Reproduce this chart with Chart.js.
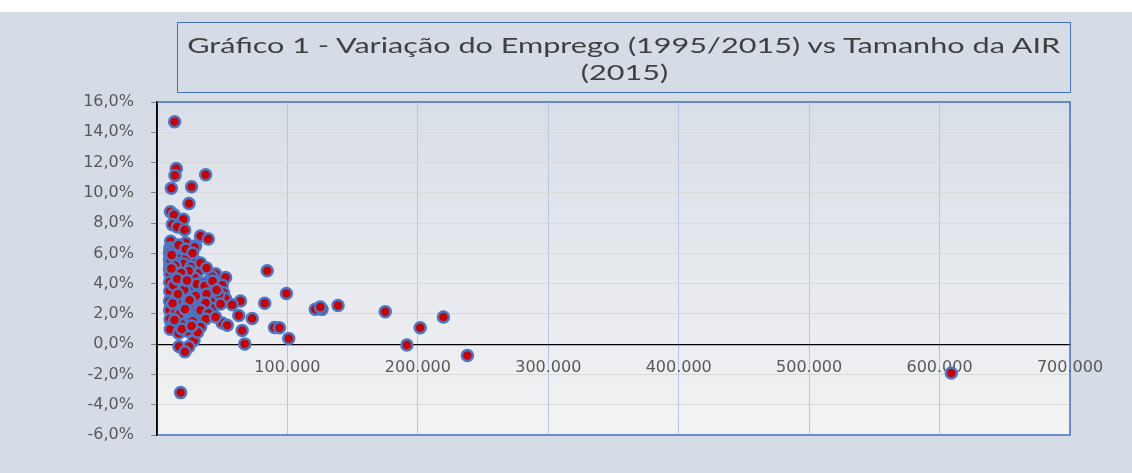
<!DOCTYPE html>
<html>
<head>
<meta charset="utf-8">
<script src="https://cdn.jsdelivr.net/npm/chart.js@4.4.1/dist/chart.umd.min.js"></script>
<style>
  html, body { margin: 0; padding: 0; }
  body { width: 1132px; height: 473px; background: #d6dce5; position: relative; overflow: hidden; }
  #strip { position: absolute; left: 0; top: 0; width: 1132px; height: 12px; background: #fff; }
  #chart { position: absolute; left: 0; top: 0; }
  #title {
    position: absolute; left: 177px; top: 22px; width: 894px; height: 71px;
    border: 1.5px solid #4472c4; box-sizing: border-box;
    color: #404040; font-family: Lato, "Liberation Sans", sans-serif; font-size: 22px;
    text-align: center; line-height: 27px; padding-top: 8px;
  }
  #title span { display: inline-block; transform-origin: center; white-space: nowrap; }
</style>
</head>
<body>
<div id="strip"></div>
<canvas id="chart" width="1132" height="473"></canvas>
<div id="title"><span id="t1">Gráfico 1 - Variação do Emprego (1995/2015) vs Tamanho da AIR</span><br><span id="t2">(2015)</span></div>
<script>
// ── Data (x = tamanho da AIR, y = variação do emprego em %) ────────────────
const airSize = [
  13500, 14800, 13800, 37300, 11000, 26500, 24500, 10300, 13000, 20200,
  11800, 15600, 21200, 33400, 39300, 10500, 22000, 29600, 9800, 10500,
  20400, 28800, 16600, 29100, 9800, 9600, 12800, 22000, 31900, 44900,
  52600, 41100, 11800, 24300, 34700, 50000, 51000, 14300, 27100, 10500,
  22000, 33400, 43400, 52600, 64000, 84500, 10500, 19400, 28300, 42400,
  57700, 82600, 11800, 24500, 32100, 62700, 73000, 10500, 14300, 23300,
  30900, 50000, 53900, 65300, 28300, 67300, 16800, 24500, 21400, 99200,
  90100, 93900, 101000, 121400, 126500, 125200, 138800, 175000, 191600, 201800,
  219600, 238000, 609000, 18100, 42400, 36000, 47400,
  9500, 12000, 16600, 22700, 15100, 20400, 25800, 9600, 9900, 17400,
  23500, 28800, 9700, 15100, 19700, 30400, 36500, 9800, 18100, 23500,
  29600, 38000, 9600, 15100, 25800, 37300, 48700, 9700, 14300, 22700,
  33400, 39600, 10000, 18100, 27300, 37300, 44900, 12000, 18900, 25800,
  33400, 10200, 16600, 31100, 24300, 33400, 38000, 42600, 45700, 22000,
  10500, 27300,
  11200, 14000, 18500, 12500, 20800, 16000, 12000, 17500, 25000, 21500,
  13500, 19000, 26500, 15500, 23000, 11000
];
const empVar = [
  14.7, 11.6, 11.15, 11.2, 10.3, 10.4, 9.3, 8.75, 8.55, 8.25,
  7.9, 7.75, 7.55, 7.15, 6.95, 6.8, 6.7, 6.5, 6.35, 6.2,
  6.15, 6.4, 6.55, 5.5, 5.3, 5.6, 4.85, 5.0, 4.85, 4.65,
  4.4, 4.3, 4.3, 4.05, 3.65, 3.9, 3.4, 3.65, 3.5, 3.05,
  3.0, 2.85, 3.0, 3.0, 2.85, 4.85, 2.45, 2.4, 2.5, 2.35,
  2.6, 2.7, 1.85, 1.85, 1.85, 1.9, 1.7, 1.5, 1.1, 0.85,
  1.5, 1.4, 1.25, 0.9, 0.25, 0.02, -0.15, -0.15, -0.5, 3.35,
  1.1, 1.08, 0.38, 2.3, 2.3, 2.45, 2.55, 2.15, -0.05, 1.08,
  1.8, -0.75, -1.9, -3.2, 4.45, 4.05, 3.3,
  6.03, 5.83, 5.63, 5.76, 5.36, 5.3, 5.1, 4.97, 4.64, 4.5,
  4.57, 4.37, 4.11, 4.04, 3.84, 3.97, 3.84, 3.51, 3.38, 3.25,
  3.18, 3.31, 2.85, 2.85, 2.72, 2.72, 2.65, 2.25, 2.12, 2.19,
  2.25, 2.05, 1.66, 1.66, 1.52, 1.66, 1.79, 1.32, 1.32, 1.19,
  1.13, 0.99, 0.73, 0.79, 4.83, 5.36, 5.03, 4.17, 3.58, 6.29,
  5.56, 6.03,
  5.9, 5.2, 4.7, 3.9, 3.6, 3.3, 2.7, 2.0, 2.9, 2.3,
  1.6, 1.0, 1.2, 4.3, 4.2, 5.0
];
const xTicks = { min: 0, max: 700000, step: 100000 };
const yTicks = { min: -6, max: 16, step: 2 };

// ── Title width (Excel stretches the text) ──────────────────────────────────
(function () {
  const t1 = document.getElementById('t1');
  const t2 = document.getElementById('t2');
  const s = 873 / t1.getBoundingClientRect().width;
  t1.style.transform = 'scaleX(' + s + ')';
  t2.style.transform = 'scaleX(' + s + ')';
})();

// ── Plot area background + border ───────────────────────────────────────────
const plotArea = {
  id: 'plotArea',
  beforeDraw(chart) {
    const { ctx, chartArea: a } = chart;
    const g = ctx.createLinearGradient(0, a.top, 0, a.bottom);
    g.addColorStop(0, '#d8dee7');
    g.addColorStop(1, '#f3f3f4');
    ctx.save();
    ctx.fillStyle = g;
    ctx.fillRect(a.left, a.top, a.right - a.left, a.bottom - a.top);
    ctx.restore();
  },
  afterDraw(chart) {
    const { ctx, chartArea: a } = chart;
    ctx.save();
    ctx.strokeStyle = '#4472c4';
    ctx.lineWidth = 1.5;
    ctx.beginPath();
    ctx.moveTo(a.left, a.top);
    ctx.lineTo(a.right, a.top);
    ctx.lineTo(a.right, a.bottom);
    ctx.lineTo(a.left, a.bottom);
    ctx.stroke();
    ctx.strokeStyle = '#000';
    ctx.beginPath();
    ctx.moveTo(a.left, a.top);
    ctx.lineTo(a.left, a.bottom);
    ctx.stroke();
    ctx.restore();
  }
};

const points = airSize.map((x, i) => ({ x: x, y: empVar[i] }));
const tickFont = { family: '"DejaVu Sans", sans-serif', size: 16 };

new Chart(document.getElementById('chart'), {
  type: 'scatter',
  data: {
    datasets: [{
      data: points,
      backgroundColor: '#c80000',
      borderColor: '#4a78c9',
      borderWidth: 2.5,
      pointRadius: 5.5,
      pointHoverRadius: 5.5,
    }]
  },
  options: {
    responsive: false,
    devicePixelRatio: 1,
    animation: false,
    layout: { padding: { left: 0, top: 102, right: 62, bottom: 38 } },
    plugins: { legend: { display: false }, tooltip: { enabled: false } },
    scales: {
      x: {
        type: 'linear',
        position: { y: 0 },
        min: xTicks.min, max: xTicks.max,
        ticks: {
          stepSize: xTicks.step, color: '#595959', font: tickFont, padding: 14,
          maxRotation: 0,
          callback: v => v === 0 ? '' : (v / 1000) + '.000'
        },
        grid: {
          drawTicks: false,
          color: ctx => (ctx.tick && ctx.tick.value === 0) ? 'rgba(0,0,0,0)' : '#b4c7e7',
        },
        border: { color: '#000', width: 1.2 }
      },
      y: {
        min: yTicks.min, max: yTicks.max,
        afterFit: s => { s.width = 157; },
        ticks: {
          stepSize: yTicks.step, color: '#595959', font: tickFont, padding: 17,
          callback: v => (Math.round(v * 10) / 10).toFixed(1).replace('.', ',') + '%'
        },
        grid: {
          tickLength: 6,
          tickColor: '#808080',
          color: ctx => (ctx.tick && ctx.tick.value === 0) ? 'rgba(0,0,0,0)' : '#d9d9d9',
        },
        border: { color: '#000', width: 1.5 }
      }
    }
  },
  plugins: [plotArea]
});
</script>
</body>
</html>
